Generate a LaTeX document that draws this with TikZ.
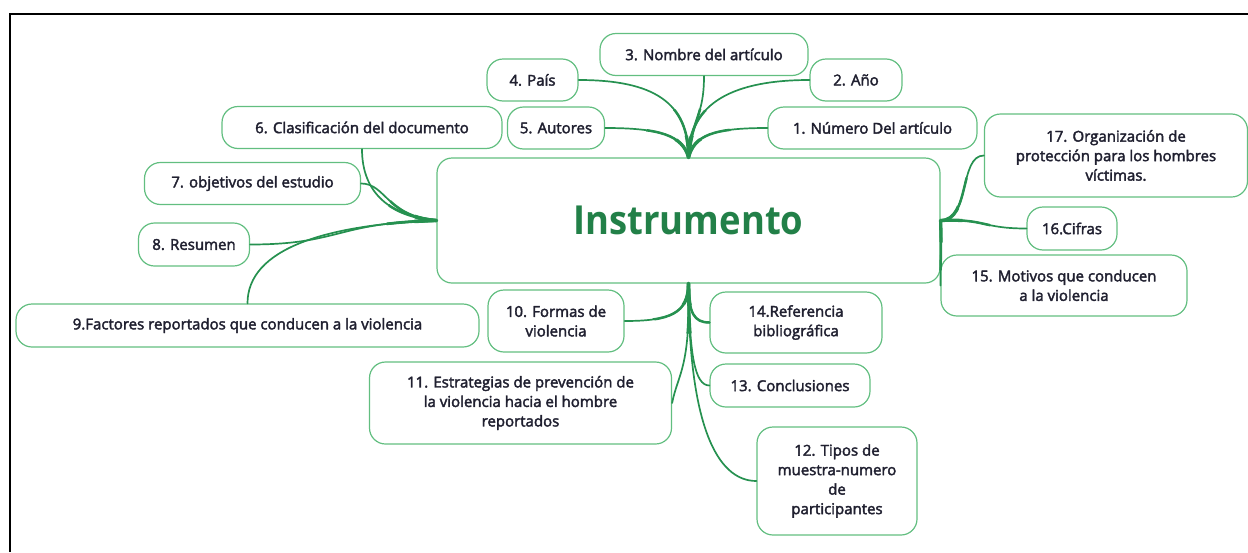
\documentclass[tikz,border=0pt]{standalone}
\usepackage{fontspec}
\setmainfont{Open Sans}
\newfontfamily\lblfont{Open Sans}[FakeStretch=1.0,FakeBold=2.5]
\newfontfamily\ttlfont{Open Sans}[FakeStretch=0.91]
\definecolor{boxgreen}{RGB}{98,190,128}
\definecolor{linkgreen}{RGB}{38,145,80}
\definecolor{ttlgreen}{RGB}{34,128,72}
\definecolor{txt}{RGB}{32,32,48}
\tikzset{
  x=1pt,y=-1pt,
  box/.style={draw=boxgreen, line width=1.2pt, rounded corners=16pt, align=center,
    inner sep=0pt, text=txt, font=\lblfont\fontsize{15}{19.5}\selectfont},
  centerbox/.style={draw=boxgreen, line width=1.2pt, rounded corners=15pt,
    inner sep=0pt, text=ttlgreen, font=\ttlfont\fontsize{40}{40}\selectfont\bfseries},
  link/.style={draw=linkgreen, line cap=round},
  frame/.style={draw=black, line width=2pt}
}
\newcommand\alllinks[1]{%
% top hub
\draw[link,#1] (n3.south) .. controls +(0,40) and +(4,-40) .. (c.north);
\draw[link,#1] (n4.east) .. controls +(75,0) and +(0,-55) .. (c.north);
\draw[link,#1] (n5.east) .. controls +(55,0) and +(-6,-22) .. (c.north);
\draw[link,#1] (n2.west) .. controls +(-75,0) and +(0,-55) .. (c.north);
\draw[link,#1] (n1.west) .. controls +(-55,0) and +(6,-22) .. (c.north);
% left hub
\draw[link,#1] (n6.south) .. controls +(0,45) and +(-45,-4) .. (c.west);
\draw[link,#1] (n7.east) .. controls +(25,0) and +(-50,-4) .. (c.west);
\draw[link,#1] (n8.east) .. controls +(90,0) and +(-100,2) .. (c.west);
\draw[link,#1] (n9.north) .. controls +(0,-55) and +(-110,4) .. (c.west);
% right hub
\draw[link,#1] (c.east) .. controls +(30,0) and +(-25,0) .. (n17.west);
\draw[link,#1] (c.east) .. controls +(45,-2) and +(-45,0) .. (n16.west);
\draw[link,#1] (c.east) .. controls +(1,25) and +(0,-25) .. (n15.west);
% bottom hub
\draw[link,#1] (c.south) .. controls +(0,30) and +(45,0) .. (n10.east);
\draw[link,#1] (c.south) .. controls +(0,30) and +(-15,0) .. (n14.west);
\draw[link,#1] (c.south) .. controls +(1,70) and +(-15,0) .. (n13.west);
\draw[link,#1] (c.south) .. controls +(2,85) and +(6,-30) .. (n11.east);
\draw[link,#1] (c.south) .. controls +(0,140) and +(-40,0) .. (n12.west);
}
\begin{document}
\begin{tikzpicture}
\useasboundingbox (0,0) rectangle (1248,552);
\draw[frame] (10,552) -- (10,14) -- (1250,14);

\node[centerbox, minimum width=503pt, minimum height=125pt] (c) at (688.5,220.5) {Instrumento};

\node[box, minimum width=209pt, minimum height=42pt] (n1) at (872.5,128) {1. Número Del artículo};
\node[box, minimum width=92pt, minimum height=42pt] (n2) at (856,80) {2. Año};
\node[box, minimum width=208pt, minimum height=42pt] (n3) at (704,54.5) {3. Nombre del artículo};
\node[box, minimum width=91pt, minimum height=42pt] (n4) at (532.5,80) {4. País};
\node[box, minimum width=97pt, minimum height=42pt] (n5) at (556,128) {5. Autores};
\node[box, minimum width=280pt, minimum height=42pt] (n6) at (362,127.5) {6. Clasificación del documento};
\node[box, minimum width=216pt, minimum height=42pt] (n7) at (252.5,183.5) {7. objetivos del estudio};
\node[box, minimum width=111pt, minimum height=43pt] (n8) at (194,244.5) {8. Resumen};
\node[box, minimum width=463pt, minimum height=43pt] (n9) at (247.5,325.5) {9.Factores reportados que conducen a la violencia};
\node[box, minimum width=136pt, minimum height=62pt] (n10) at (556,321) {10. Formas de\\violencia};
\node[box, minimum width=302pt, minimum height=82pt] (n11) at (520.5,403) {11. Estrategias de prevención de\\la violencia hacia el hombre\\reportados};
\node[box, minimum width=160pt, minimum height=108pt] (n12) at (837,481) {12. Tipos de\\muestra-numero\\de\\participantes};
\node[box, minimum width=160pt, minimum height=43pt] (n13) at (790,385.5) {13. Conclusiones};
\node[box, minimum width=172pt, minimum height=61pt] (n14) at (796,322.5) {14.Referencia\\bibliográfica};
\node[box, minimum width=246pt, minimum height=61pt] (n15) at (1064,285.5) {15. Motivos que conducen\\a la violencia};
\node[box, minimum width=90pt, minimum height=43pt] (n16) at (1072,228.5) {16.Cifras};
\node[box, minimum width=263pt, minimum height=83pt] (n17) at (1116,155.5) {17. Organización de\\protección para los hombres\\víctimas.};

\alllinks{line width=1.7pt}
\begin{scope}
  \clip (c.north) circle (50) (c.west) circle (50) (c.east) circle (50) (c.south) circle (50);
  \alllinks{line width=2.5pt}
\end{scope}
\begin{scope}
  \clip (c.north) circle (22) (c.west) circle (22) (c.east) circle (22) (c.south) circle (22);
  \alllinks{line width=3.3pt}
\end{scope}
\end{tikzpicture}
\end{document}
